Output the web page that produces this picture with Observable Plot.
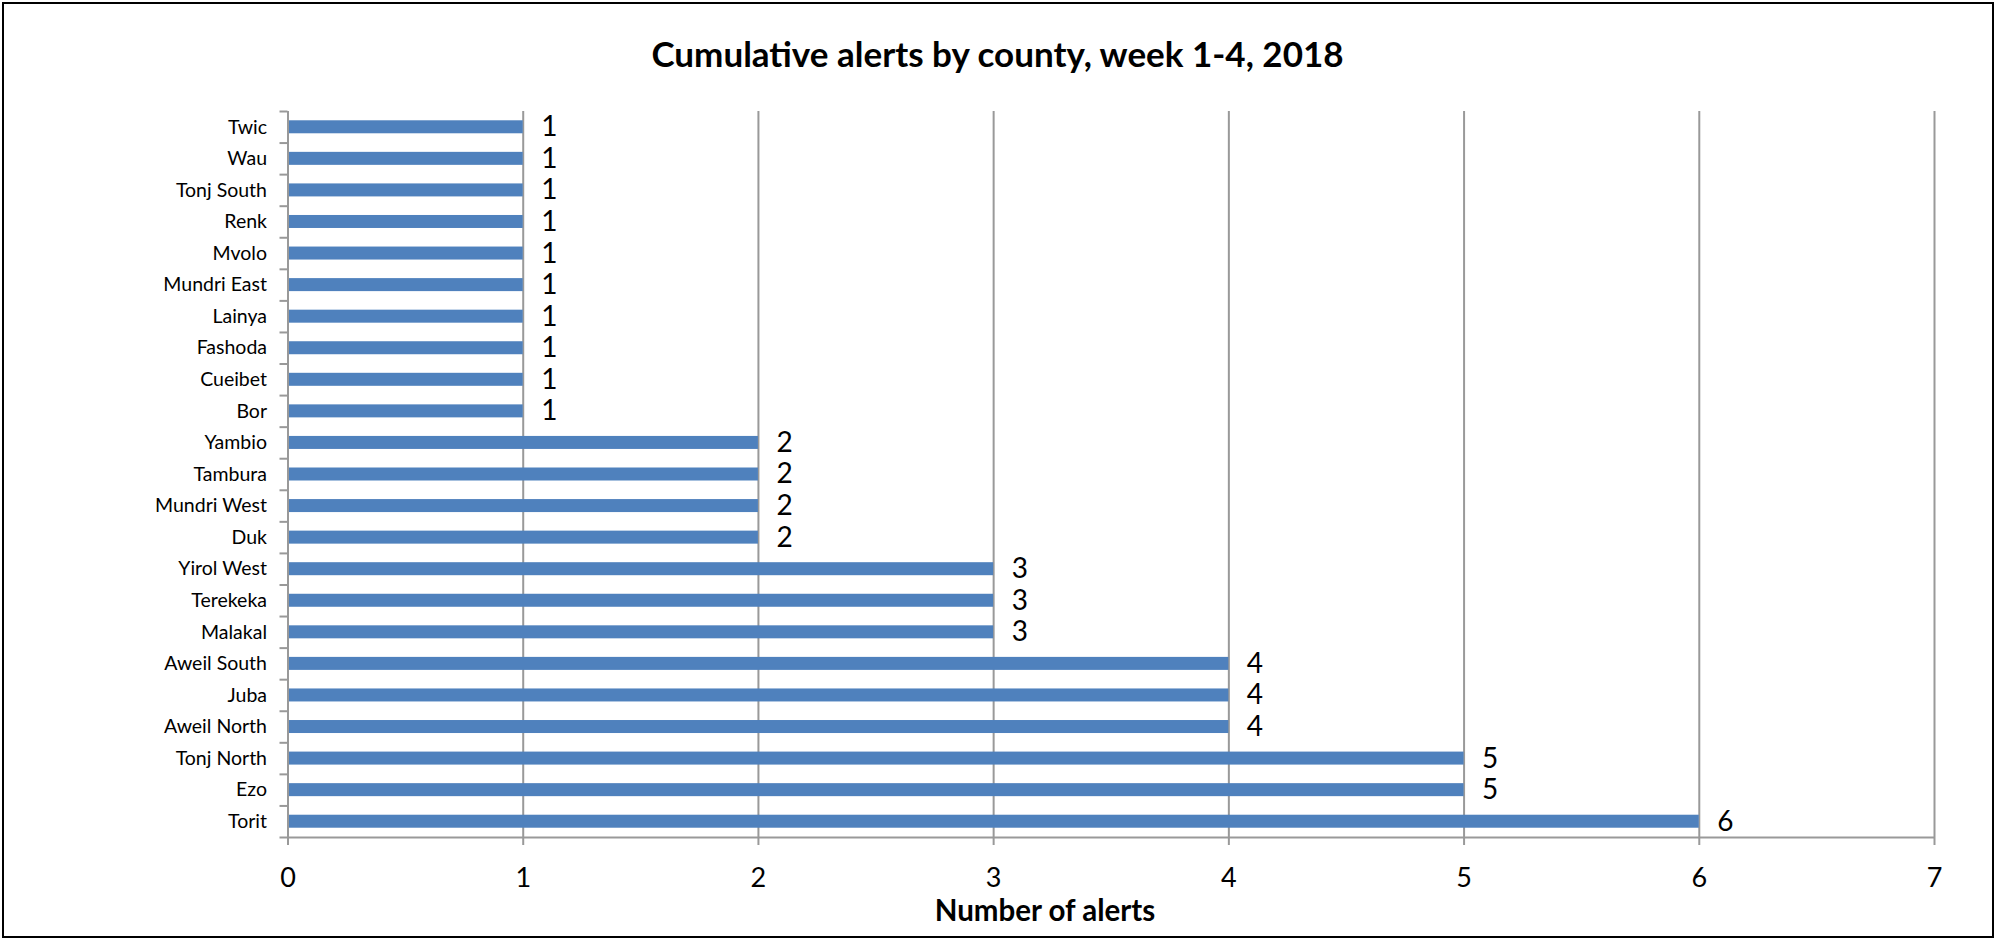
<!DOCTYPE html>
<html>
<head>
<meta charset="utf-8">
<script src="https://cdn.jsdelivr.net/npm/d3@7"></script>
<script src="https://cdn.jsdelivr.net/npm/@observablehq/plot@0.6"></script>
<style>
  html, body { margin: 0; padding: 0; background: #fff; }
  #wrap { position: relative; width: 1995px; height: 938px; overflow: hidden; font-family: Lato, sans-serif; }
  #border { position: absolute; left: 2px; top: 2px; width: 1988px; height: 932px; border: 2px solid #000; box-sizing: content-box; pointer-events: none; }
  #title { height: 90px; line-height: 106px; text-align: center; font-weight: bold; font-size: 35px; color: #000; white-space: nowrap; }
  #chart { height: 800px; line-height: 0; }
  #chart svg { display: block; }
  #xlabel { position: relative; height: 48px; }
  #xlabel span { position: absolute; left: 1045px; top: 0; line-height: 40px; transform: translateX(-50%); font-weight: bold; font-size: 29.5px; white-space: nowrap; }
</style>
</head>
<body>
<div id="wrap">
  <div id="title">Cumulative alerts by county, week 1-4, 2018</div>
  <div id="chart"></div>
  <div id="xlabel"><span>Number of alerts</span></div>
  <div id="border"></div>
</div>
<script>
const counties = ["Twic","Wau","Tonj South","Renk","Mvolo","Mundri East","Lainya","Fashoda","Cueibet","Bor","Yambio","Tambura","Mundri West","Duk","Yirol West","Terekeka","Malakal","Aweil South","Juba","Aweil North","Tonj North","Ezo","Torit"];
const alerts = [1,1,1,1,1,1,1,1,1,1,2,2,2,2,3,3,3,4,4,4,5,5,6];
const xTicks = [0,1,2,3,4,5,6,7];
const gridTicks = [1,2,3,4,5,6,7];

const data = counties.map((c, i) => ({county: c, alerts: alerts[i]}));

const W = 1995, H = 800, mT = 21, mB = 53, mL = 287.5, mR = 61;
const step = (H - mT - mB) / counties.length;
const barH = 13;
const inset = (step - barH) / 2;
const gray = "#999999";

const chart = Plot.plot({
  width: W,
  height: H,
  marginTop: mT,
  marginBottom: mB,
  marginLeft: mL,
  marginRight: mR,
  style: {fontFamily: "Lato, sans-serif", background: "transparent", overflow: "visible"},
  x: {domain: [0, 7], ticks: xTicks},
  y: {domain: counties, padding: 0, round: false},
  marks: [
    Plot.ruleX(gridTicks, {stroke: gray, strokeWidth: 2}),
    Plot.barX(data, {x: "alerts", y: "county", fill: "#4F81BD", insetTop: inset, insetBottom: inset}),
    Plot.ruleX([0], {stroke: gray, strokeWidth: 2}),
    Plot.ruleY(counties, {y: d => d, dy: -step / 2, x1: 0, x2: 0, insetLeft: -8, stroke: gray, strokeWidth: 2}),
    Plot.ruleY([counties[counties.length - 1]], {y: d => d, dy: step / 2, x1: 0, x2: 7, insetLeft: -8, stroke: gray, strokeWidth: 2}),
    Plot.text(data, {x: "alerts", y: "county", text: d => String(d.alerts), dx: 18, textAnchor: "start", fontSize: 28, fill: "#000"}),
    Plot.axisY({tickSize: 0, tickPadding: 21, fontSize: 19.5, fill: "#000", label: null}),
    Plot.axisX({ticks: xTicks, tickSize: 8, tickPadding: 22, fontSize: 27, stroke: gray, strokeWidth: 2, fill: "#000", label: null, tickFormat: d => String(d)})
  ]
});
document.getElementById("chart").appendChild(chart);
</script>
</body>
</html>
